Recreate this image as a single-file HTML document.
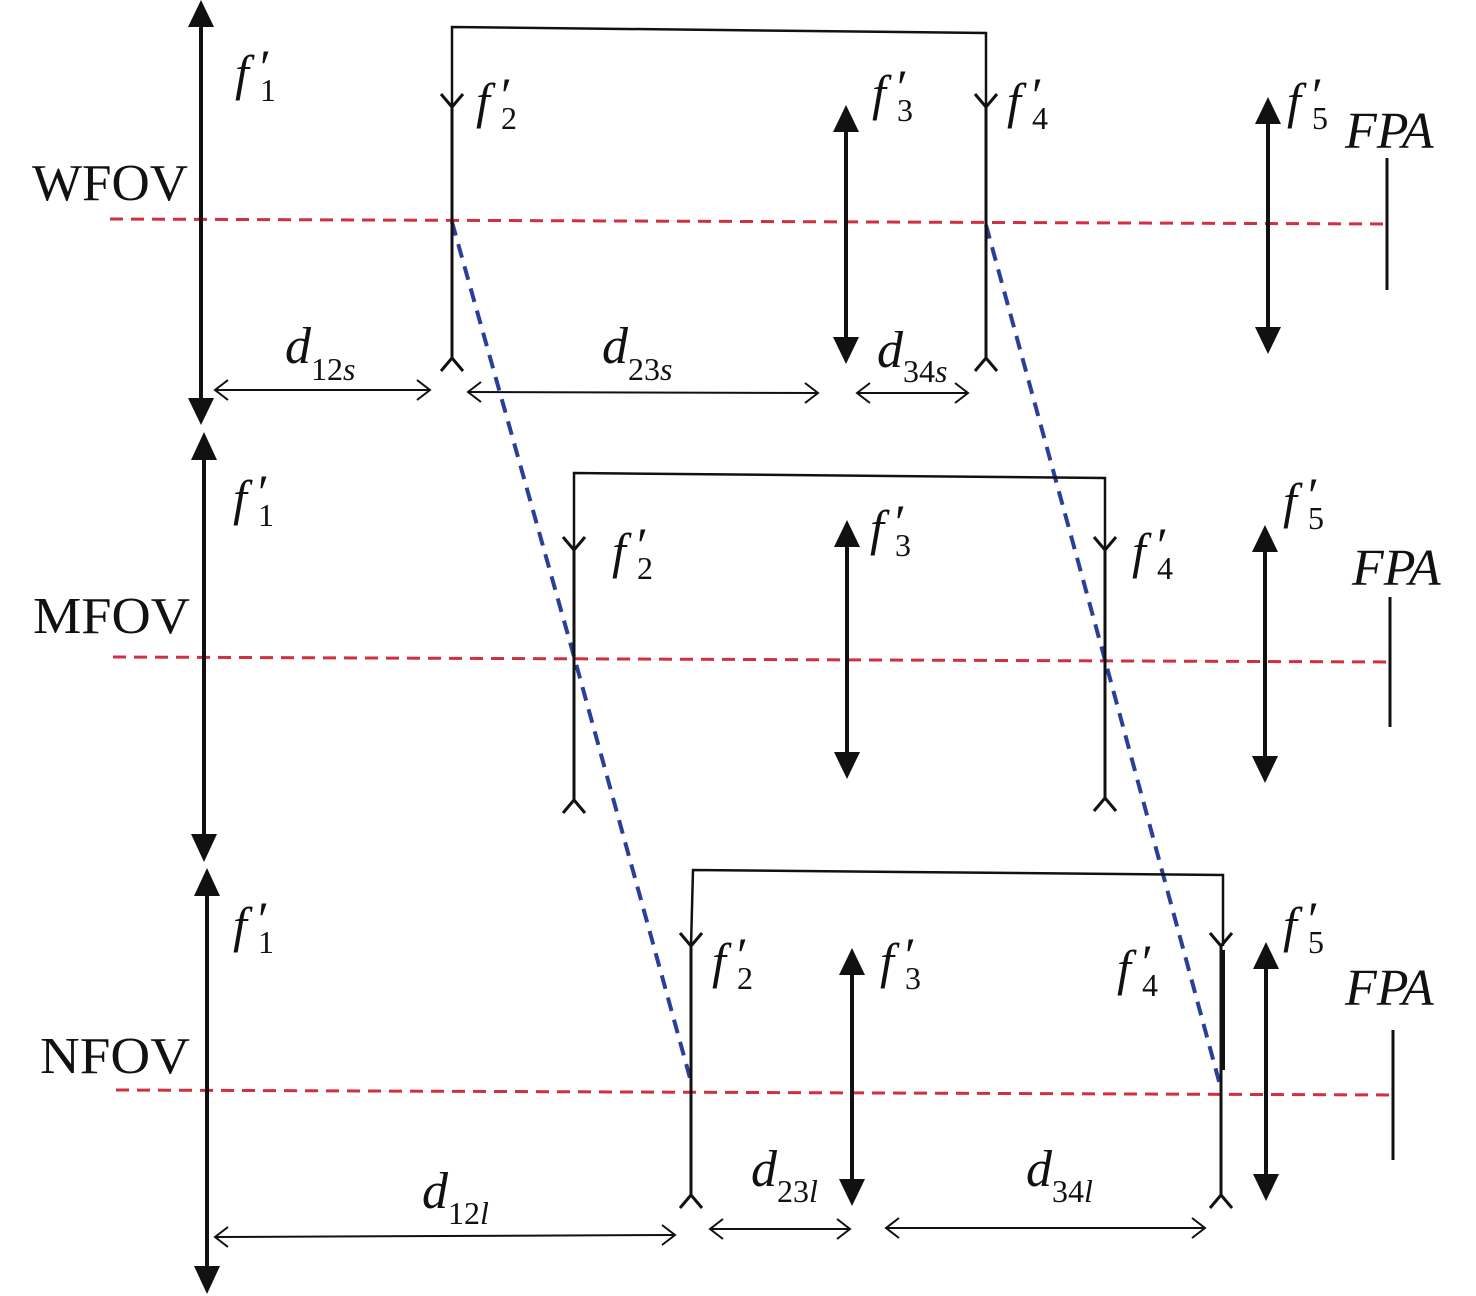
<!DOCTYPE html>
<html><head><meta charset="utf-8"><style>
html,body{margin:0;padding:0;background:#fff;}
svg{display:block;}
text{font-family:"Liberation Serif",serif;fill:#111;}
.it{font-style:italic;}
</style></head><body>
<svg width="1476" height="1296" viewBox="0 0 1476 1296" xmlns="http://www.w3.org/2000/svg">
<g stroke="#d03040" stroke-width="3" stroke-dasharray="13,8" fill="none">
<line x1="110" y1="219" x2="1387" y2="224"/>
<line x1="113" y1="657" x2="1390" y2="662"/>
<line x1="116" y1="1090" x2="1393" y2="1095"/>
</g>
<g stroke="#2a3f9a" stroke-width="4" stroke-dasharray="14,9" fill="none">
<polyline points="452,222 575,660 690,1078"/>
<polyline points="986,225 1105,660 1220,1085"/>
</g>
<g stroke="#111" fill="none" stroke-width="3">
<line x1="201" y1="20" x2="201" y2="405" stroke-width="4"/>
<line x1="204" y1="460" x2="204" y2="836" stroke-width="4"/>
<line x1="207" y1="896" x2="207" y2="1272" stroke-width="4"/>
<polyline points="452,107 452,27 986,33 986,107" stroke-width="2.5"/>
<polyline points="574,550 574,473 1105,478 1105,550" stroke-width="2.5"/>
<polyline points="691,946 693,870 1223,875 1223,946" stroke-width="2.5"/>
<line x1="452" y1="107" x2="452" y2="358"/>
<line x1="986" y1="107" x2="986" y2="358"/>
<line x1="574" y1="550" x2="574" y2="800"/>
<line x1="1105" y1="550" x2="1105" y2="798"/>
<line x1="691" y1="946" x2="691" y2="1195"/>
<line x1="1221" y1="946" x2="1221" y2="1195"/>
<line x1="1223" y1="950" x2="1223" y2="1070" stroke-width="4"/>
<g stroke-width="3">
<polyline points="441,94 452,107 463,94"/><polyline points="441,371 452,358 463,371"/>
<polyline points="975,94 986,107 997,94"/><polyline points="975,371 986,358 997,371"/>
<polyline points="563,537 574,550 585,537"/><polyline points="563,813 574,800 585,813"/>
<polyline points="1094,537 1105,550 1116,537"/><polyline points="1094,811 1105,798 1116,811"/>
<polyline points="680,933 691,946 702,933"/><polyline points="680,1208 691,1195 702,1208"/>
<polyline points="1210,933 1221,946 1232,933"/><polyline points="1210,1208 1221,1195 1232,1208"/>
</g>
<line x1="846" y1="130" x2="846" y2="338" stroke-width="4"/>
<line x1="1268" y1="122" x2="1268" y2="328" stroke-width="4"/>
<line x1="847" y1="545" x2="847" y2="752" stroke-width="4"/>
<line x1="1265" y1="550" x2="1265" y2="756" stroke-width="4"/>
<line x1="852" y1="973" x2="852" y2="1180" stroke-width="4"/>
<line x1="1266" y1="967" x2="1266" y2="1175" stroke-width="4"/>
<line x1="1387" y1="158" x2="1387" y2="290"/>
<line x1="1390" y1="597" x2="1390" y2="727"/>
<line x1="1393" y1="1030" x2="1393" y2="1160"/>
<g stroke-width="2">
<line x1="215" y1="390" x2="430" y2="390"/><polyline points="228,380 215,390 228,400"/><polyline points="417,380 430,390 417,400"/>
<line x1="468" y1="392" x2="818" y2="393"/><polyline points="481,382 468,392 481,402"/><polyline points="805,383 818,393 805,403"/>
<line x1="857" y1="393" x2="968" y2="393"/><polyline points="870,383 857,393 870,403"/><polyline points="955,383 968,393 955,403"/>
<line x1="215" y1="1237" x2="675" y2="1235"/><polyline points="228,1227 215,1237 228,1247"/><polyline points="662,1225 675,1235 662,1245"/>
<line x1="710" y1="1229" x2="850" y2="1229"/><polyline points="723,1219 710,1229 723,1239"/><polyline points="837,1219 850,1229 837,1239"/>
<line x1="886" y1="1228" x2="1205" y2="1228"/><polyline points="899,1218 886,1228 899,1238"/><polyline points="1192,1218 1205,1228 1192,1238"/>
</g>
</g>
<g fill="#111">
<polygon points="201,0 188,27 214,27"/><polygon points="201,425 188,398 214,398"/>
<polygon points="204,432 191,460 217,460"/><polygon points="204,862 191,834 217,834"/>
<polygon points="207,868 194,896 220,896"/><polygon points="207,1294 194,1266 220,1266"/>
<polygon points="846,105 833,132 859,132"/><polygon points="846,364 833,337 859,337"/>
<polygon points="1268,97 1255,124 1281,124"/><polygon points="1268,354 1255,327 1281,327"/>
<polygon points="847,520 834,547 860,547"/><polygon points="847,779 834,752 860,752"/>
<polygon points="1265,525 1252,552 1278,552"/><polygon points="1265,783 1252,756 1278,756"/>
<polygon points="852,948 839,975 865,975"/><polygon points="852,1206 839,1179 865,1179"/>
<polygon points="1266,942 1253,969 1279,969"/><polygon points="1266,1201 1253,1174 1279,1174"/>
</g>
<g font-size="52">
<text x="32" y="200" textLength="156" lengthAdjust="spacingAndGlyphs">WFOV</text>
<text x="33" y="633" textLength="157" lengthAdjust="spacingAndGlyphs">MFOV</text>
<text x="40" y="1073" textLength="150" lengthAdjust="spacingAndGlyphs">NFOV</text>
<text class="it" x="1345" y="148">FPA</text>
<text class="it" x="1352" y="585">FPA</text>
<text class="it" x="1345" y="1005">FPA</text>
</g>
<g font-size="50">
<text class="it" x="235" y="90">f</text><text x="260" y="84" font-size="50">′</text><text x="260" y="101" font-size="32">1</text>
<text class="it" x="476" y="118">f</text><text x="501" y="112" font-size="50">′</text><text x="501" y="129" font-size="32">2</text>
<text class="it" x="872" y="110">f</text><text x="897" y="104" font-size="50">′</text><text x="897" y="121" font-size="32">3</text>
<text class="it" x="1007" y="118">f</text><text x="1032" y="112" font-size="50">′</text><text x="1032" y="129" font-size="32">4</text>
<text class="it" x="1287" y="118">f</text><text x="1312" y="112" font-size="50">′</text><text x="1312" y="129" font-size="32">5</text>
<text class="it" x="233" y="515">f</text><text x="258" y="509" font-size="50">′</text><text x="258" y="526" font-size="32">1</text>
<text class="it" x="612" y="568">f</text><text x="637" y="562" font-size="50">′</text><text x="637" y="579" font-size="32">2</text>
<text class="it" x="870" y="545">f</text><text x="895" y="539" font-size="50">′</text><text x="895" y="556" font-size="32">3</text>
<text class="it" x="1132" y="568">f</text><text x="1157" y="562" font-size="50">′</text><text x="1157" y="579" font-size="32">4</text>
<text class="it" x="1283" y="518">f</text><text x="1308" y="512" font-size="50">′</text><text x="1308" y="529" font-size="32">5</text>
<text class="it" x="233" y="942">f</text><text x="258" y="936" font-size="50">′</text><text x="258" y="953" font-size="32">1</text>
<text class="it" x="712" y="978">f</text><text x="737" y="972" font-size="50">′</text><text x="737" y="989" font-size="32">2</text>
<text class="it" x="880" y="978">f</text><text x="905" y="972" font-size="50">′</text><text x="905" y="989" font-size="32">3</text>
<text class="it" x="1117" y="985">f</text><text x="1142" y="979" font-size="50">′</text><text x="1142" y="996" font-size="32">4</text>
<text class="it" x="1283" y="942">f</text><text x="1308" y="936" font-size="50">′</text><text x="1308" y="953" font-size="32">5</text>
</g>
<g font-size="52">
<text x="285" y="363"><tspan class="it">d</tspan><tspan font-size="32" dy="17">12</tspan><tspan class="it" font-size="32">s</tspan></text>
<text x="602" y="363"><tspan class="it">d</tspan><tspan font-size="32" dy="17">23</tspan><tspan class="it" font-size="32">s</tspan></text>
<text x="877" y="367"><tspan class="it">d</tspan><tspan font-size="32" dy="15">34</tspan><tspan class="it" font-size="32">s</tspan></text>
<text x="422" y="1208"><tspan class="it">d</tspan><tspan font-size="32" dy="16">12</tspan><tspan class="it" font-size="32">l</tspan></text>
<text x="751" y="1186"><tspan class="it">d</tspan><tspan font-size="32" dy="16">23</tspan><tspan class="it" font-size="32">l</tspan></text>
<text x="1026" y="1186"><tspan class="it">d</tspan><tspan font-size="32" dy="16">34</tspan><tspan class="it" font-size="32">l</tspan></text>
</g>
</svg>
</body></html>
